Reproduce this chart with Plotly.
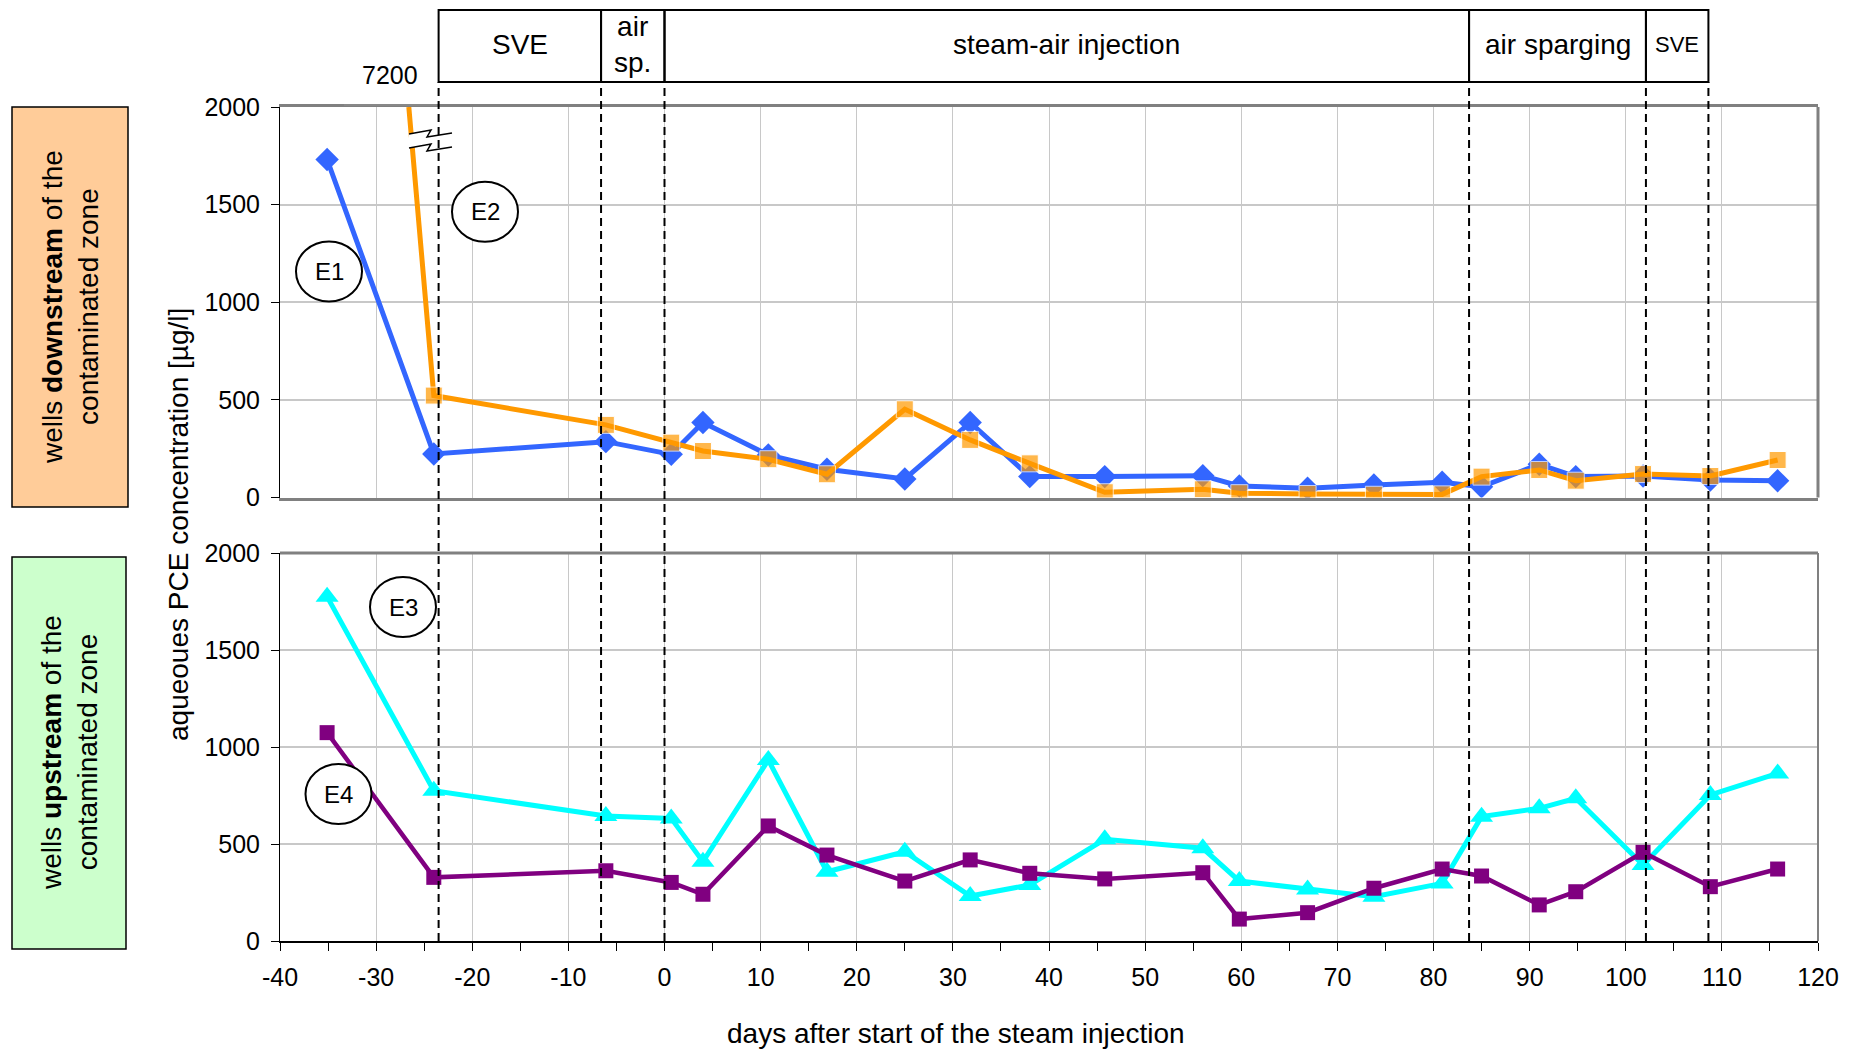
import plotly.graph_objects as go

# ---------------- data ----------------
days = [-35.1, -24.0, -6.1, 0.7, 4.0, 10.8, 16.9, 25.0, 31.8, 38.0, 45.8,
        56.0, 59.8, 66.9, 73.8, 80.9, 85.0, 91.0, 94.8, 101.8, 108.8, 115.8]
e1 = [1731, 223, 286, 221, 384, 218, 145, 95, 384, 107, 107,
      112, 59, 47, 64, 78, 55, 170, 107, 110, 90, 86]
e2_days = [-26.6] + days[1:]
e2 = [7200, 522, 372, 281, 238, 196, 119, 452, 295, 175, 27,
      42, 22, 18, 14, 16, 107, 141, 86, 120, 110, 192]
e3 = [1775, 775, 644, 632, 409, 933, 357, 460, 232, 289, 524,
      478, 309, 266, 228, 297, 641, 684, 736, 392, 753, 864]
e4 = [1074, 328, 362, 302, 241, 593, 443, 309, 418, 349, 320,
      352, 113, 146, 272, 371, 335, 186, 254, 457, 280, 371]

phase_edges = [-23.5, -6.6, 0, 83.7, 102.1, 108.6]
phase_labels = ["SVE", "air<br>sp.", "steam-air injection", "air sparging", "SVE"]
phase_font = [28, 28, 28, 28, 22]

x_ticks = list(range(-40, 121, 10))
x_ticktext = [str(v) for v in x_ticks]
y_ticks = [0, 500, 1000, 1500, 2000]
y_ticktext = [str(v) for v in y_ticks]

X_MIN, X_MAX, Y_MAX = -40, 120, 2000

# ---------------- geometry (page has an 8px body margin) ----------------
OFF = 8
W, H = 1854 - OFF, 1050 - OFF
L, R, T, B = 280 - OFF, 36, 107 - OFF, 109
PW, PH = W - L - R, H - T - B

def xp(day):
    return (day - X_MIN) / (X_MAX - X_MIN)

def px_x(p):          # reference screen pixel -> paper x
    return (p - 280) / PW

def px_y(p):          # reference screen pixel -> paper y
    return (941 - p) / PH

top_dom = [px_y(497.5), 1.0]
bot_dom = [0.0, px_y(553)]

FONT = "Liberation Sans, Arial, sans-serif"
BLUE, ORANGE, CYAN, PURPLE = "#3366FF", "#FF9900", "#00FFFF", "#800080"
GRID = "#C8C8C8"
FRAME = "#808080"

fig = go.Figure()

fig.add_trace(go.Scatter(
    x=days, y=e1, mode="lines+markers", xaxis="x", yaxis="y",
    line=dict(color=BLUE, width=5),
    marker=dict(symbol="diamond", size=18, color=BLUE), name="E1"))

e2_disp = [min(v, Y_MAX) for v in e2]
e2_size = [0 if v > Y_MAX else 17 for v in e2]
fig.add_trace(go.Scatter(
    x=e2_days, y=e2_disp, mode="lines+markers", xaxis="x", yaxis="y",
    line=dict(color=ORANGE, width=5),
    marker=dict(symbol="square", size=e2_size, color=ORANGE), name="E2"))

fig.add_trace(go.Scatter(
    x=days, y=e3, mode="lines+markers", xaxis="x2", yaxis="y2",
    line=dict(color=CYAN, width=5),
    marker=dict(symbol="triangle-up", size=20, color=CYAN), name="E3"))

fig.add_trace(go.Scatter(
    x=days, y=e4, mode="lines+markers", xaxis="x2", yaxis="y2",
    line=dict(color=PURPLE, width=4.5),
    marker=dict(symbol="square", size=15, color=PURPLE), name="E4"))

shapes = []
annotations = []

def ann(text, x, y, size, angle=0):
    annotations.append(dict(text=text, xref="paper", yref="paper", x=x, y=y,
                            xanchor="center", yanchor="middle",
                            showarrow=False, textangle=angle, align="center",
                            font=dict(size=size)))

# frame pieces
shapes.append(dict(type="line", xref="paper", yref="paper", x0=1, x1=1,
                   y0=top_dom[0], y1=1, line=dict(color=FRAME, width=3)))
shapes.append(dict(type="line", xref="paper", yref="paper", x0=0, x1=1,
                   y0=bot_dom[1], y1=bot_dom[1], line=dict(color=FRAME, width=3)))
shapes.append(dict(type="line", xref="paper", yref="paper", x0=1, x1=1,
                   y0=0, y1=bot_dom[1], line=dict(color=FRAME, width=2)))

# axis break symbol
def path(points, close=False):
    s = "M " + " L ".join(f"{px_x(a):.5f},{px_y(b):.5f}" for a, b in points)
    return s + (" Z" if close else "")

z1 = [(409, 134), (431, 130), (427, 137), (452, 133)]
z2 = [(409, 148), (431, 144), (427, 151), (452, 147)]
shapes.append(dict(type="path", xref="paper", yref="paper",
                   path=path(z1 + z2[::-1], close=True),
                   fillcolor="white", line=dict(width=0), layer="above"))
for z in (z1, z2):
    shapes.append(dict(type="path", xref="paper", yref="paper", path=path(z),
                       line=dict(color="black", width=1.5), layer="above"))

# 7200 leader line and label
shapes.append(dict(type="line", xref="paper", yref="paper",
                   x0=px_x(344), x1=px_x(437), y0=px_y(105), y1=px_y(105),
                   line=dict(color="#909090", width=1)))
ann("7200", px_x(390), px_y(75), 25)

# phase boxes
box_y0, box_y1 = px_y(82), px_y(10)
for i, lab in enumerate(phase_labels):
    a, b = phase_edges[i], phase_edges[i + 1]
    shapes.append(dict(type="rect", xref="paper", yref="paper",
                       x0=xp(a), x1=xp(b), y0=box_y0, y1=box_y1,
                       line=dict(color="black", width=2)))
    ann(lab, (xp(a) + xp(b)) / 2, px_y(44), phase_font[i])

# dashed phase lines
for e in phase_edges:
    shapes.append(dict(type="line", xref="paper", yref="paper",
                       x0=xp(e), x1=xp(e), y0=0, y1=box_y0,
                       line=dict(color="black", width=2, dash="8px,5px"),
                       layer="above"))

# left side boxes
shapes.append(dict(type="rect", xref="paper", yref="paper",
                   x0=px_x(12), x1=px_x(128), y0=px_y(507), y1=px_y(107),
                   fillcolor="#FFCC99", line=dict(color="black", width=1.5)))
shapes.append(dict(type="rect", xref="paper", yref="paper",
                   x0=px_x(12), x1=px_x(126), y0=px_y(949), y1=px_y(557),
                   fillcolor="#CCFFCC", line=dict(color="black", width=1.5)))
ann("wells <b>downstream</b> of the<br>contaminated zone", px_x(70), px_y(307), 28, -90)
ann("wells <b>upstream</b> of the<br>contaminated zone", px_x(69), px_y(753), 28, -90)

# axis titles
ann("aqueoues PCE concentration [µg/l]", px_x(178), px_y(525), 28, -90)
ann("days after start of the steam injection", px_x(956), px_y(1033), 28)

# E labels in ellipses
e_labels = [("E1", 329, 271.5), ("E2", 485, 211.7), ("E3", 403, 607), ("E4", 338.5, 794)]
for lab, cx, cy in e_labels:
    shapes.append(dict(type="circle", xref="paper", yref="paper",
                       xsizemode="pixel", ysizemode="pixel",
                       xanchor=px_x(cx), yanchor=px_y(cy),
                       x0=-33, x1=33, y0=-30, y1=30,
                       fillcolor="white", line=dict(color="black", width=2),
                       layer="above"))
    ann(lab, px_x(cx), px_y(cy), 24)

common_x = dict(range=[X_MIN, X_MAX], tickvals=x_ticks, ticktext=x_ticktext,
                showgrid=True, gridcolor=GRID, gridwidth=1, zeroline=False)
common_y = dict(range=[0, Y_MAX], tickvals=y_ticks, ticktext=y_ticktext,
                showgrid=True, gridcolor=GRID, gridwidth=1.5, zeroline=False,
                ticks="outside", ticklen=8, tickcolor="black",
                showline=True, linecolor="black", linewidth=1,
                ticklabelstandoff=6, tickfont=dict(size=25))

fig.update_layout(
    width=W, height=H,
    margin=dict(l=L, r=R, t=T, b=B, pad=0, autoexpand=False),
    paper_bgcolor="white", plot_bgcolor="white",
    font=dict(family=FONT, color="black"),
    showlegend=False,
    xaxis=dict(domain=[0, 1], anchor="y", showticklabels=False, ticks="",
               showline=True, linecolor=FRAME, linewidth=3, mirror=True,
               **common_x),
    yaxis=dict(domain=top_dom, anchor="x", **common_y),
    xaxis2=dict(domain=[0, 1], anchor="y2", matches="x",
                ticks="outside", ticklen=8, tickcolor="black",
                minor=dict(dtick=5, ticks="outside", ticklen=8,
                           tickcolor="black", showgrid=False),
                showline=True, linecolor="black", linewidth=2,
                ticklabelstandoff=5, tickfont=dict(size=25), **common_x),
    yaxis2=dict(domain=bot_dom, anchor="x2", **common_y),
    shapes=shapes,
    annotations=annotations,
)

fig.write_html("out.html")
